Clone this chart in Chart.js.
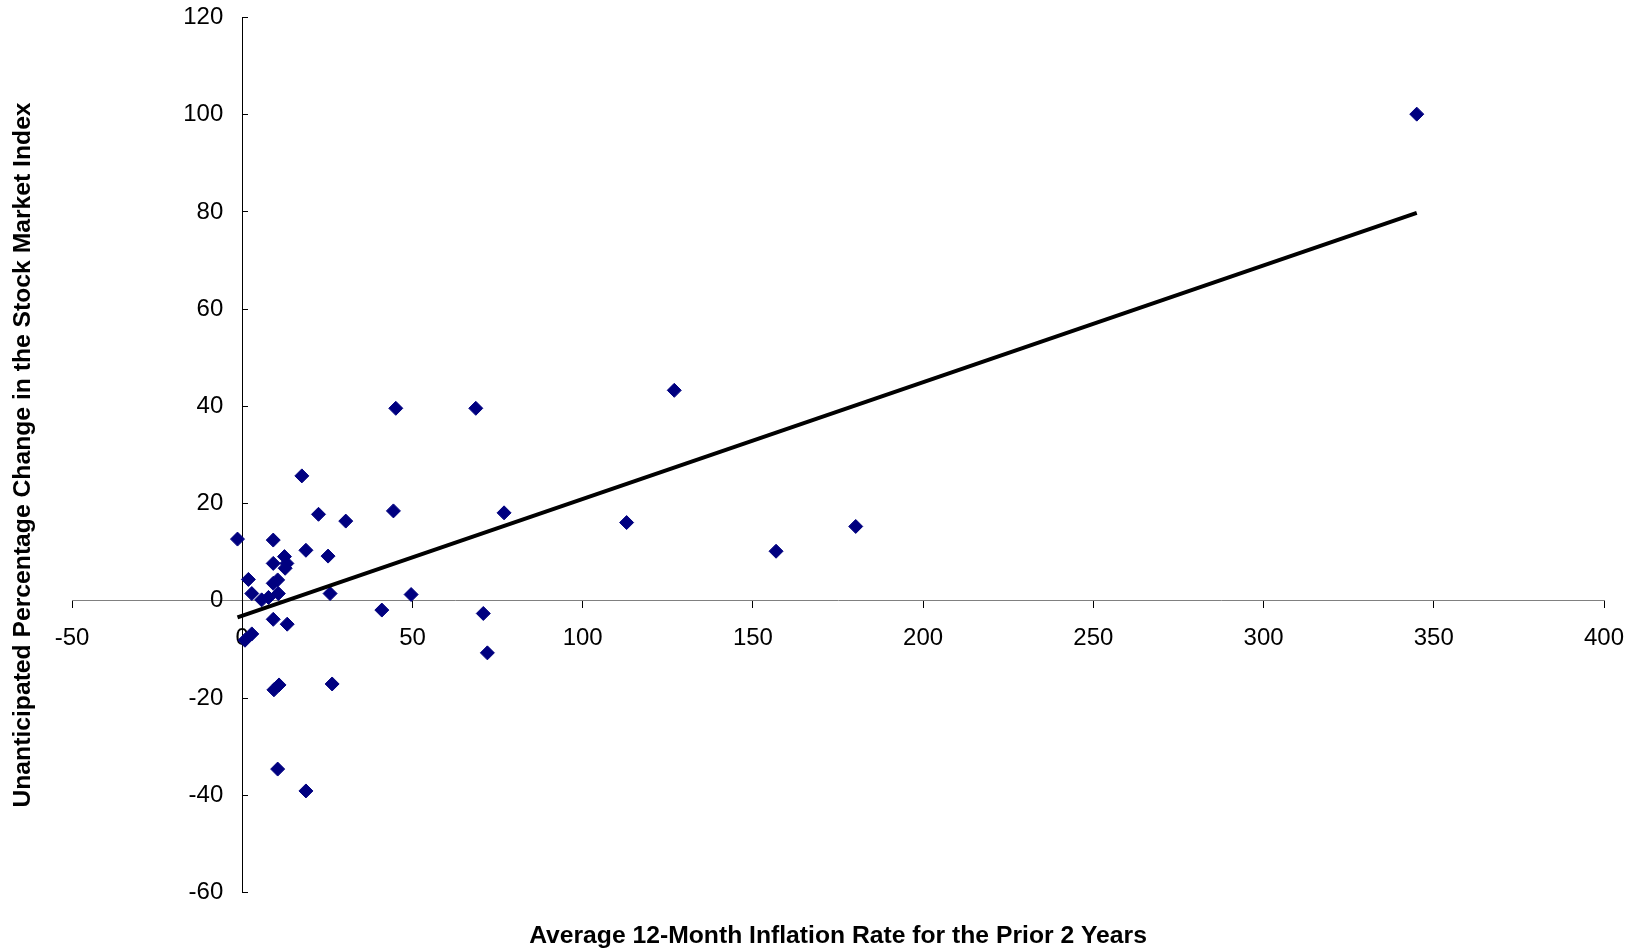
<!DOCTYPE html>
<html>
<head>
<meta charset="utf-8">
<script src="https://cdn.jsdelivr.net/npm/chart.js@4.4.1/dist/chart.umd.min.js"></script>
<style>
  html, body { margin: 0; padding: 0; background: #ffffff; }
  #wrap { width: 1637px; height: 951px; }
</style>
</head>
<body>
<div id="wrap"><canvas id="myChart"></canvas></div>
<script>
// average 12-month inflation rate for the prior 2 years (x)
const inflation = [
  -1.4, 9.1, 18.7, 12.4, 13.1, 12.6, 9.1, 1.8, 10.4, 9.1,
  2.8, 5.7, 7.7, 10.6, 9.1, 13.2, 2.8, 0.8, 9.3, 10.8,
  10.4, 18.7, 26.4, 17.5, 22.4, 30.4, 44.4, 25.2, 25.8, 49.6,
  41.0, 45.1, 68.6, 76.9, 70.8, 72.0, 112.9, 126.9, 156.8, 180.2,
  345.0
];
// unanticipated percentage change in the stock market index (y)
const stockChange = [
  12.7, 12.5, 10.4, 9.1, 7.7, 6.7, 7.7, 4.4, 4.3, 3.6,
  1.5, 0.2, 0.7, 1.5, -3.8, -4.8, -6.8, -8.1, -18.3, -17.3,
  -34.6, -39.1, -17.1, 25.7, 17.8, 16.4, 18.5, 9.2, 1.5, 1.3,
  -1.9, 39.6, 39.6, 18.1, -2.6, -10.7, 16.1, 43.3, 10.2, 15.3,
  100.1
];
const xTicks = [-50, 0, 50, 100, 150, 200, 250, 300, 350, 400];
const yTicks = [-60, -40, -20, 0, 20, 40, 60, 80, 100, 120];

const xTitle = "Average 12-Month Inflation Rate for the Prior 2 Years";
const yTitle = "Unanticipated Percentage Change in the Stock Market Index";

// least squares trend line
function linearFit(xs, ys) {
  const n = xs.length;
  let sx = 0, sy = 0, sxx = 0, sxy = 0;
  for (let i = 0; i < n; i++) {
    sx += xs[i]; sy += ys[i];
    sxx += xs[i] * xs[i]; sxy += xs[i] * ys[i];
  }
  const slope = (n * sxy - sx * sy) / (n * sxx - sx * sx);
  const intercept = (sy - slope * sx) / n;
  return { slope, intercept };
}

const fit = linearFit(inflation, stockChange);
const xMin = Math.min(...inflation);
const xMax = Math.max(...inflation);
const trendPoints = [
  { x: xMin, y: fit.intercept + fit.slope * xMin },
  { x: xMax, y: fit.intercept + fit.slope * xMax },
];
const points = inflation.map((v, i) => ({ x: v, y: stockChange[i] }));

// both axes cross at 0, so move their labels away from the tick marks by hand
const labelGap = {
  id: "labelGap",
  beforeDraw(chart) {
    chart.scales.y.getLabelItems().forEach((it) => {
      if (!it._moved) {
        it.options.translation[0] -= 19;
        it._moved = true;
      }
    });
    chart.scales.x.getLabelItems().forEach((it) => {
      if (!it._moved) {
        it.options.translation[1] += 16;
        it._moved = true;
      }
    });
  },
};

Chart.defaults.font.family = "'Liberation Sans', Arial, sans-serif";
Chart.defaults.color = "#000000";

const ctx = document.getElementById("myChart");
new Chart(ctx, {
  type: "scatter",
  data: {
    datasets: [
      {
        label: "Trend",
        data: trendPoints,
        showLine: true,
        borderColor: "#000000",
        borderWidth: 4,
        pointRadius: 0,
        order: 0,
      },
      {
        label: "Countries",
        data: points,
        pointStyle: "rectRot",
        pointRadius: 7,
        pointBackgroundColor: "#000080",
        pointBorderColor: "#000080",
        pointBorderWidth: 1,
        order: 1,
      },
    ],
  },
  options: {
    responsive: true,
    maintainAspectRatio: false,
    animation: false,
    events: [],
    layout: {
      padding: { top: 13.5, right: 33, left: 0, bottom: 0 },
    },
    scales: {
      x: {
        type: "linear",
        min: xTicks[0],
        max: xTicks[xTicks.length - 1],
        position: { y: 0 },
        afterBuildTicks: (axis) => { axis.ticks = xTicks.map((v) => ({ value: v })); },
        ticks: {
          font: { size: 24 },
          padding: 0,
          maxRotation: 0,
        },
        grid: {
          drawOnChartArea: false,
          drawTicks: true,
          tickLength: 7,
          color: "#000000",
        },
        border: { color: "#808080", width: 1 },
      },
      y: {
        type: "linear",
        min: yTicks[0],
        max: yTicks[yTicks.length - 1],
        position: { x: 0 },
        afterBuildTicks: (axis) => { axis.ticks = yTicks.map((v) => ({ value: v })); },
        ticks: {
          font: { size: 24 },
        },
        grid: {
          drawOnChartArea: false,
          drawTicks: true,
          tickLength: -6,
          color: "#000000",
        },
        border: { color: "#000000", width: 1 },
      },
    },
    plugins: {
      legend: { display: false },
      tooltip: { enabled: false },
      title: {
        display: true,
        text: yTitle,
        position: "left",
        fullSize: false,
        font: { size: 24.7, weight: "bold" },
        padding: { top: 8.2, bottom: 34.2 },
      },
      subtitle: {
        display: true,
        text: xTitle,
        position: "bottom",
        fullSize: false,
        font: { size: 24.7, weight: "bold" },
        padding: { top: 28.6, bottom: 0.2 },
      },
    },
  },
  plugins: [labelGap],
});
</script>
</body>
</html>
